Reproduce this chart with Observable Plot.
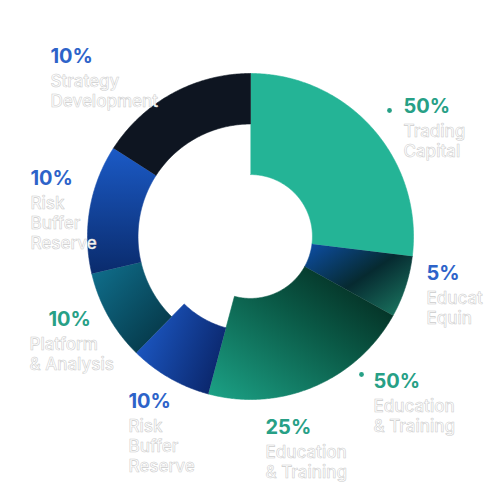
<!DOCTYPE html>
<html>
<head>
<meta charset="utf-8">
<script src="https://cdn.jsdelivr.net/npm/d3@7"></script>
<script src="https://cdn.jsdelivr.net/npm/@observablehq/plot@0.6"></script>
<style>
  html, body { margin: 0; padding: 0; background: #ffffff; }
  #chart { width: 500px; height: 500px; }
</style>
</head>
<body>
<div id="chart"></div>
<script>
// ---- data ----
// slices, clockwise from 12 o'clock; share = angular share in degrees of the full turn
const sliceNames  = ["Trading Capital", "Educat Equin", "Education & Training", "Risk Buffer Reserve", "Platform & Analysis", "Risk Buffer Reserve", "Strategy Development"];
const sliceShares = [97, 22, 76, 29.5, 32.3, 46, 57.2];
// relative inner radius of each ring piece (hole size / outer radius)
const sliceInner  = [0.38, 0.38, 0.38, 0.58, 0.69, 0.69, 0.69];

// labels
const labelPct   = ["10%", "50%", "5%", "50%", "25%", "10%", "10%", "10%"];
const labelLines = [
  ["Strategy", "Development"],
  ["Trading", "Capital"],
  ["Educat", "Equin"],
  ["Education", "& Training"],
  ["Education", "& Training"],
  ["Risk", "Buffer", "Reserve"],
  ["Platform", "& Analysis"],
  ["Risk", "Buffer", "Reserve"]
];
const labelTone = ["blue", "green", "blue", "green", "green", "blue", "green", "blue"];
const labelDot  = [false, true, false, true, false, false, false, false];

// ---- layout & styles ----
const W = 500, H = 500;
const cx = 250, cy = 236, R = 163;
const labelLayout = [ // [pctX, pctBaseline, nameX, dotX, dotY]
  [50, 62, 50],
  [403, 112, 403, 389, 110],
  [426, 279, 426],
  [373, 387, 373, 361, 374],
  [265, 433, 265],
  [128, 407, 128],
  [48, 325, 29],
  [30, 184, 30]
];
const toneColor = {blue: "#2d63c9", green: "#27a086"};
const sliceFill = ["#24b496", "url(#g1)", "url(#g2)", "url(#g3)", "url(#g4)", "url(#g5)", "#0e1521"];
const gradients = [
  {id: "g1", x1: 0, y1: 0, x2: 1, y2: 1, stops: [[0, "#0d4fa8"], [0.5, "#062a30"], [1, "#1d7f66"]]},
  {id: "g2", x1: 0, y1: 1, x2: 1, y2: 0, stops: [[0, "#1ca387"], [0.55, "#0a5946"], [1, "#021d15"]]},
  {id: "g3", x1: 0, y1: 0.3, x2: 1, y2: 0.7, stops: [[0, "#1c59c6"], [1, "#0a2467"]]},
  {id: "g4", x1: 0, y1: 0, x2: 1, y2: 1, stops: [[0, "#10718f"], [1, "#04303e"]]},
  {id: "g5", x1: 0, y1: 0, x2: 0, y2: 1, stops: [[0, "#1b5ac6"], [1, "#0a2b6c"]]}
];

// ---- build ring pieces from the shares ----
const rad = d => d * Math.PI / 180;
const total = d3.sum(sliceShares);
let acc = 0;
const pieces = sliceNames.map((name, i) => {
  const a0 = acc / total * 360, a1 = (acc + sliceShares[i]) / total * 360;
  acc += sliceShares[i];
  const r0 = R * sliceInner[i];
  const pts = [];
  const n = Math.max(4, Math.ceil(a1 - a0) * 2);
  for (let k = 0; k <= n; k++) {
    const a = rad(a0 + (a1 - a0) * k / n);
    pts.push({x: cx + R * Math.sin(a), y: cy - R * Math.cos(a)});
  }
  for (let k = n; k >= 0; k--) {
    const a = rad(a0 + (a1 - a0) * k / n);
    pts.push({x: cx + r0 * Math.sin(a), y: cy - r0 * Math.cos(a)});
  }
  return {name, pts, fill: sliceFill[i]};
});

// label rows
const pctRows = labelPct.map((t, i) => ({text: t, x: labelLayout[i][0], y: labelLayout[i][1], color: toneColor[labelTone[i]]}));
const nameRows = labelLines.flatMap((lines, i) =>
  lines.map((t, j) => ({text: t, x: labelLayout[i][2], y: labelLayout[i][1] + 24 + 20 * j})));
const dotRows = labelDot.map((d, i) => d ? {x: labelLayout[i][3], y: labelLayout[i][4], color: toneColor[labelTone[i]]} : null).filter(Boolean);

const marks = pieces.map(p => Plot.line(p.pts, {x: "x", y: "y", fill: p.fill, stroke: p.fill, strokeWidth: 0.6, curve: "linear"}));
marks.push(
  Plot.dot(dotRows, {x: "x", y: "y", r: 2.4, fill: "color", stroke: null}),
  Plot.text(pctRows, {x: "x", y: "y", text: "text", fill: "color", textAnchor: "start", lineAnchor: "bottom",
    fontSize: 20, fontWeight: 700, fontFamily: "Inter, 'Noto Sans', sans-serif"}),
  Plot.text(nameRows, {x: "x", y: "y", text: "text", fill: "#ffffff", stroke: "#cbcbcb", strokeWidth: 0.55,
    paintOrder: "normal", textAnchor: "start", lineAnchor: "bottom",
    fontSize: 17, fontWeight: 500, fontFamily: "Inter, 'Noto Sans', sans-serif",
    style: "letter-spacing: 0.3px"})
);

const svg = Plot.plot({
  width: W, height: H, margin: 0,
  x: {domain: [0, W], range: [0, W], axis: null},
  y: {domain: [0, H], range: [0, H], axis: null},
  color: {type: "identity"},
  style: {background: "#ffffff", overflow: "visible"},
  marks
});

d3.select(svg).selectAll("text").filter(function () { return this.getAttribute("stroke") === "#cbcbcb"; })
  .attr("letter-spacing", "0.3px");

const defs = d3.select(svg).insert("defs", ":first-child");
gradients.forEach(g => {
  const lg = defs.append("linearGradient").attr("id", g.id)
    .attr("x1", g.x1).attr("y1", g.y1).attr("x2", g.x2).attr("y2", g.y2);
  g.stops.forEach(([o, c]) => lg.append("stop").attr("offset", o).attr("stop-color", c));
});

document.getElementById("chart").appendChild(svg);
</script>
</body>
</html>
